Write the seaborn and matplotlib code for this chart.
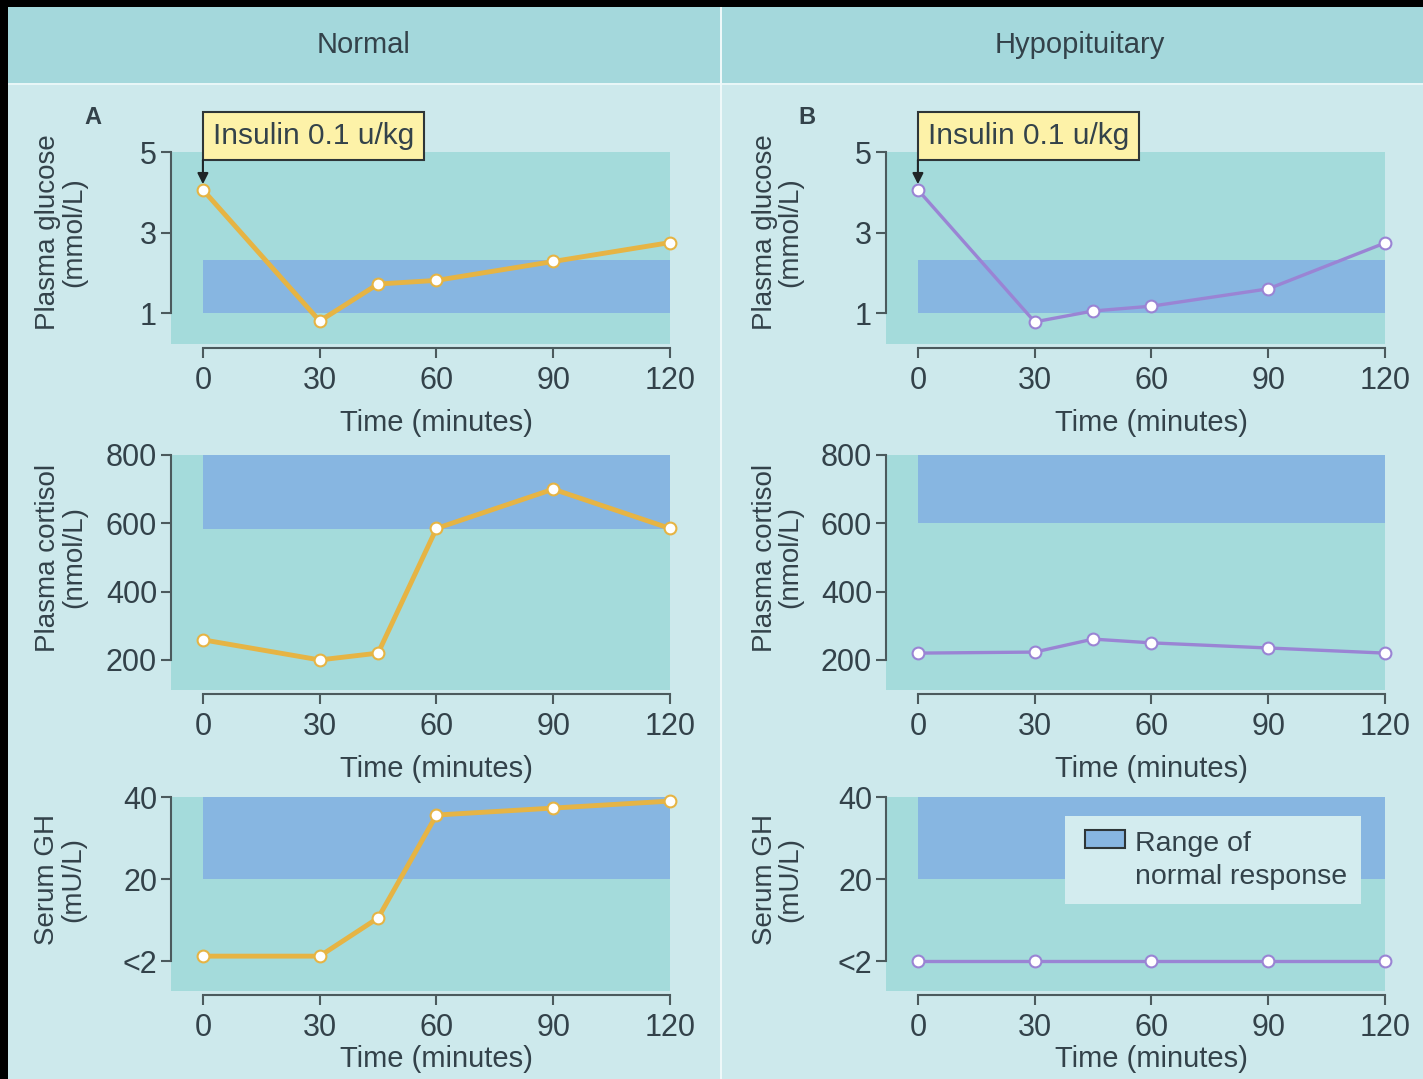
import matplotlib
matplotlib.use("Agg")
import matplotlib.pyplot as plt
import matplotlib.transforms as mtransforms
from matplotlib.patches import Rectangle, Patch
import seaborn as sns

# ==================================================
# DATA
# ==================================================
times_full = [0, 30, 45, 60, 90, 120]
times_gh_hypo = [0, 30, 60, 90, 120]
x_ticks = [0, 30, 60, 90, 120]

glucose_normal = [4.06, 0.80, 1.72, 1.81, 2.28, 2.75]
glucose_hypo = [4.06, 0.78, 1.05, 1.17, 1.60, 2.74]
cortisol_normal = [259, 200, 220, 585, 700, 585]
cortisol_hypo = [220, 223, 261, 250, 235, 220]
gh_normal = [1.2, 1.2, 10.5, 35.6, 37.3, 39.0]
gh_hypo = [0, 0, 0, 0, 0]

# normal response ranges (low, high)
glucose_range = (1.0, 2.32)
cortisol_range_a = (583, 800)
cortisol_range_b = (600, 800)
gh_range = (20, 40)

glucose_ticks = [1, 3, 5]
cortisol_ticks = [200, 400, 600, 800]
gh_ticks = [0, 20, 40]
gh_tick_labels = ["<2", "20", "40"]

# ==================================================
# STYLE
# ==================================================
BG = "#cde9ec"
HEADER = "#a4d8dc"
TEAL = "#a4dbdb"
BLUE = "#87b6e1"
ORANGE = "#e6b444"
PURPLE = "#9a84d4"
INK = "#33424a"
SPINE = "#4b5a5d"

sns.set_theme(style="ticks")
plt.rcParams["font.family"] = ["Liberation Sans", "DejaVu Sans"]
plt.rcParams["text.color"] = INK
plt.rcParams["axes.labelcolor"] = INK
plt.rcParams["xtick.color"] = SPINE
plt.rcParams["ytick.color"] = SPINE
plt.rcParams["xtick.labelcolor"] = INK
plt.rcParams["ytick.labelcolor"] = INK

fig = plt.figure(figsize=(14.23, 10.79), dpi=100)
fig.patch.set_facecolor(BG)

H = 1079.0
W = 1423.0

# header band, black frame, white separators
fig.patches.append(Rectangle((0, 1 - 83 / H), 1, 83 / H, transform=fig.transFigure,
                             facecolor=HEADER, edgecolor="none", zorder=0))
fig.patches.append(Rectangle((0, 1 - 84.5 / H), 1, 1.5 / H, transform=fig.transFigure,
                             facecolor="#e8f6f7", edgecolor="none", zorder=0))
fig.patches.append(Rectangle((720 / W, 0), 2 / W, 1, transform=fig.transFigure,
                             facecolor="#eef8f9", edgecolor="none", zorder=0))
fig.patches.append(Rectangle((0, 1 - 7 / H), 1, 7 / H, transform=fig.transFigure,
                             facecolor="black", edgecolor="none", zorder=1))
fig.patches.append(Rectangle((0, 0), 8 / W, 1, transform=fig.transFigure,
                             facecolor="black", edgecolor="none", zorder=1))

fig.text(364 / W, 1 - 45 / H, "Normal", ha="center", va="center", fontsize=21, color=INK)
fig.text(1080 / W, 1 - 45 / H, "Hypopituitary", ha="center", va="center", fontsize=21, color=INK)
fig.text(93 / W, 1 - 118 / H, "A", ha="center", va="center", fontsize=17, fontweight="bold", color=INK)
fig.text(807 / W, 1 - 118 / H, "B", ha="center", va="center", fontsize=17, fontweight="bold", color=INK)

# axes boxes (pixel top / bottom of the teal plotting areas)
rows = [(152, 344), (455, 690), (797, 991)]
cols = [171, 886]
XLIM = (-8.2, 120)


def make_axes(col, row):
    top, bottom = rows[row]
    left = cols[col]
    return fig.add_axes([left / W, 1 - bottom / H, 499 / W, (bottom - top) / H])


def style_axes(ax, ylim, yticks, ybounds, ylabel, ylabel_x, yticklabels=None, xlabelpad=9):
    ax.set_facecolor(TEAL)
    ax.set_xlim(*XLIM)
    ax.set_ylim(*ylim)
    ax.set_xticks(x_ticks)
    ax.set_yticks(yticks)
    if yticklabels is not None:
        ax.set_yticklabels(yticklabels)
    for s in ["top", "right"]:
        ax.spines[s].set_visible(False)
    ax.spines["left"].set_bounds(*ybounds)
    ax.spines["bottom"].set_bounds(0, 120)
    ax.spines["bottom"].set_position(("outward", 3))
    for s in ["left", "bottom"]:
        ax.spines[s].set_color(SPINE)
        ax.spines[s].set_linewidth(1.5)
    ax.tick_params(axis="both", labelsize=22, length=7, width=1.5)
    ax.tick_params(axis="x", pad=6)
    ax.tick_params(axis="y", pad=3)
    ax.set_xlabel("Time (minutes)", fontsize=21, labelpad=xlabelpad)
    # x label centred on the trimmed spine
    ax.xaxis.label.set_x((60 - XLIM[0]) / (XLIM[1] - XLIM[0]))
    ax.set_ylabel(ylabel, fontsize=20, linespacing=1.0)
    ymid = (sum(ybounds) / 2 - ylim[0]) / (ylim[1] - ylim[0])
    ax.yaxis.set_label_coords(ylabel_x, ymid)


def draw_line(ax, x, y, color, lw):
    sns.lineplot(x=x, y=y, ax=ax, color=color, linewidth=lw, marker="o",
                 markersize=8.5, markerfacecolor="white", markeredgecolor=color,
                 markeredgewidth=1.5, clip_on=False, zorder=5)


def band(ax, rng):
    ax.fill_between([0, 120], rng[0], rng[1], color=BLUE, linewidth=0, zorder=1)


def insulin_note(ax):
    fs = 21.5
    pad = 0.33
    off = mtransforms.ScaledTranslation(pad * fs / 72, pad * fs / 72, fig.dpi_scale_trans)
    ax.text(0, 4.8, "Insulin 0.1 u/kg", transform=ax.transData + off,
            ha="left", va="bottom", fontsize=fs, color=INK, zorder=10, clip_on=False,
            bbox=dict(boxstyle="square,pad=%.2f" % pad, facecolor="#fdf2a8",
                      edgecolor="#2e3638", linewidth=1.5))
    ax.annotate("", xy=(0, 4.2), xytext=(0, 4.8),
                arrowprops=dict(arrowstyle="-|>", color="#1e2426", lw=1.5,
                                shrinkA=0, shrinkB=0, mutation_scale=16),
                annotation_clip=False, zorder=10)


# ==================================================
# LEFT COLUMN - NORMAL
# ==================================================
ax = make_axes(0, 0)
band(ax, glucose_range)
draw_line(ax, times_full, glucose_normal, ORANGE, 3.5)
style_axes(ax, (0.23, 5), glucose_ticks, (1, 5), "Plasma glucose\n(mmol/L)", -0.168)
insulin_note(ax)

ax = make_axes(0, 1)
band(ax, cortisol_range_a)
draw_line(ax, times_full, cortisol_normal, ORANGE, 3.5)
style_axes(ax, (112, 800), cortisol_ticks, (200, 800), "Plasma cortisol\n(nmol/L)", -0.168)

ax = make_axes(0, 2)
band(ax, gh_range)
draw_line(ax, times_full, gh_normal, ORANGE, 3.5)
style_axes(ax, (-7.3, 40), gh_ticks, (0, 40), "Serum GH\n(mU/L)", -0.17, gh_tick_labels,
           xlabelpad=1)

# ==================================================
# RIGHT COLUMN - HYPOPITUITARY
# ==================================================
ax = make_axes(1, 0)
band(ax, glucose_range)
draw_line(ax, times_full, glucose_hypo, PURPLE, 2.4)
style_axes(ax, (0.23, 5), glucose_ticks, (1, 5), "Plasma glucose\n(mmol/L)", -0.165)
insulin_note(ax)

ax = make_axes(1, 1)
band(ax, cortisol_range_b)
draw_line(ax, times_full, cortisol_hypo, PURPLE, 2.4)
style_axes(ax, (112, 800), cortisol_ticks, (200, 800), "Plasma cortisol\n(nmol/L)", -0.165)

ax = make_axes(1, 2)
band(ax, gh_range)
draw_line(ax, times_gh_hypo, gh_hypo, PURPLE, 2.4)
style_axes(ax, (-7.3, 40), gh_ticks, (0, 40), "Serum GH\n(mU/L)", -0.165, gh_tick_labels,
           xlabelpad=1)
leg = ax.legend(handles=[Patch(facecolor=BLUE, edgecolor="#2e3638", linewidth=1.5,
                               label="Range of\nnormal response")],
                loc="upper left", bbox_to_anchor=(0.359, 0.9), borderaxespad=0,
                fontsize=20.5, frameon=True, fancybox=False, framealpha=1,
                facecolor="#d3ecef", edgecolor="none", handlelength=1.4,
                handleheight=0.6, borderpad=0.5, handletextpad=0.55,
                alignment="left")
for t in leg.get_texts():
    t.set_color(INK)
    t.set_linespacing(1.35)
for h in leg.legend_handles:
    h.set_y(h.get_y() + 15)
    h.set_x(h.get_x() + 4)

plt.savefig("out.png", dpi=100, facecolor=fig.get_facecolor())
plt.close()
